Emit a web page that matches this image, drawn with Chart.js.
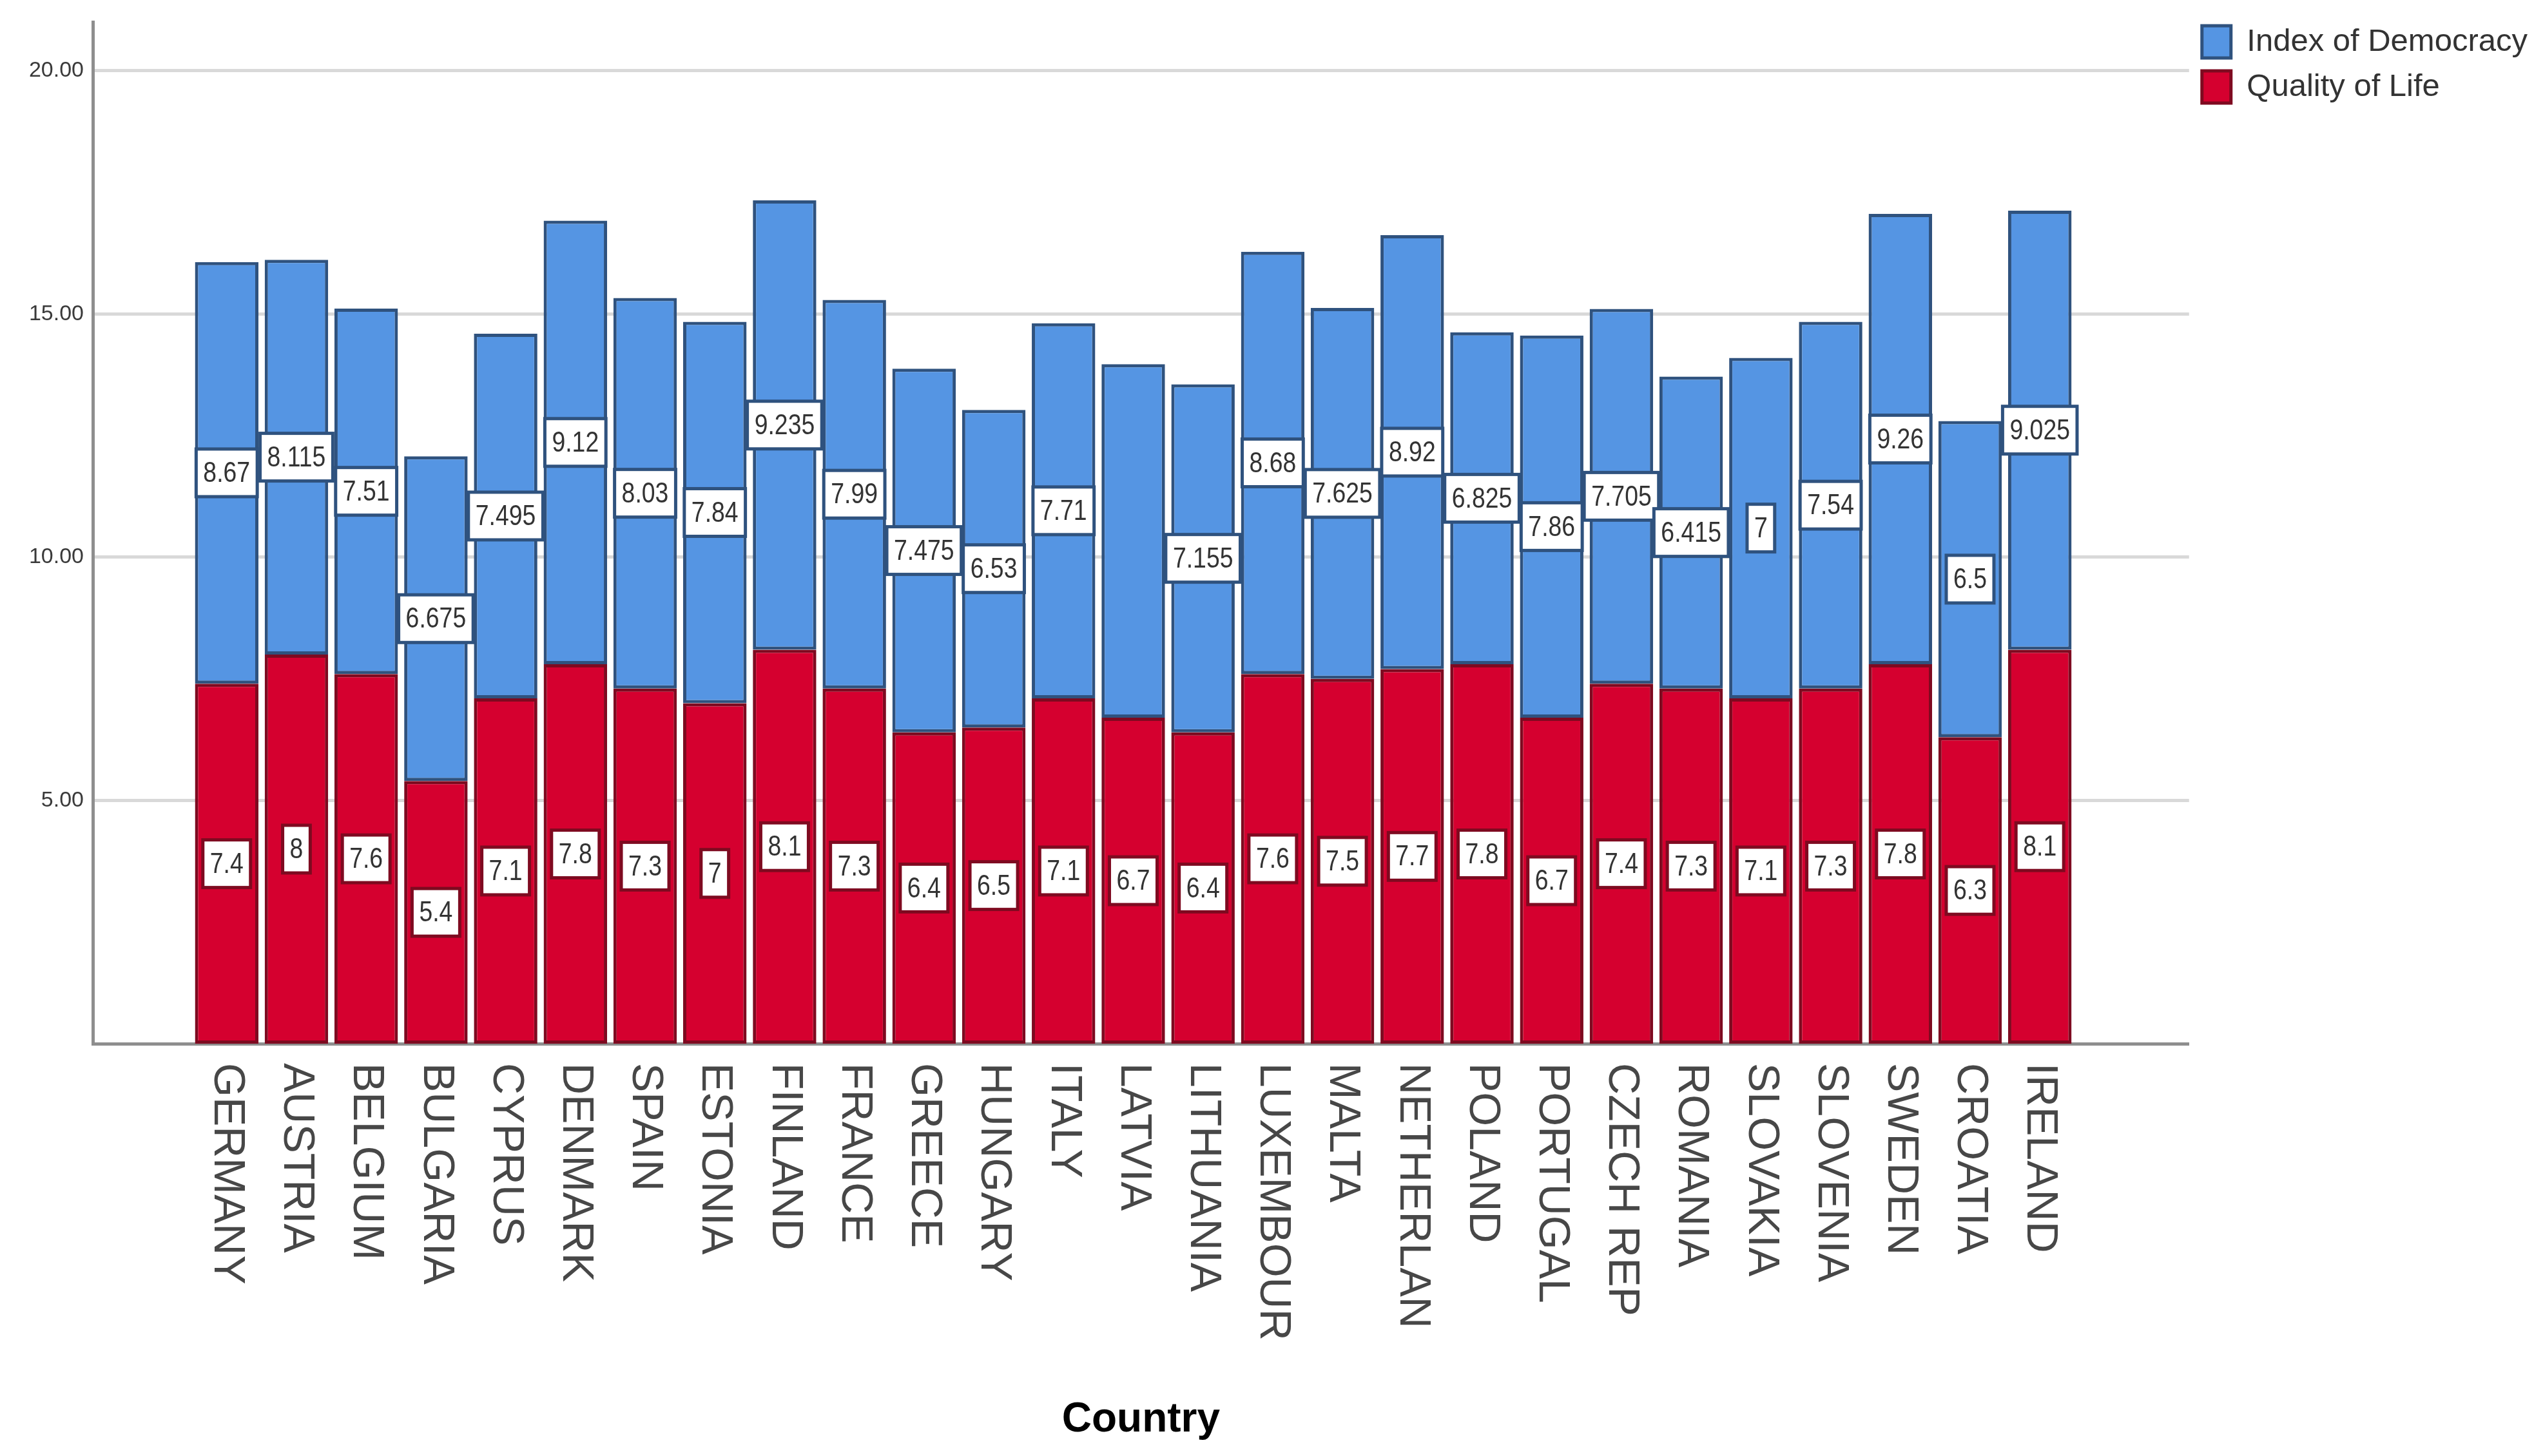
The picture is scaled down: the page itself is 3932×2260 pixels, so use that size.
<!DOCTYPE html>
<html>
<head>
<meta charset="utf-8">
<title>Index of Democracy and Quality of Life by Country</title>
<script src="https://cdn.jsdelivr.net/npm/chart.js@4.4.1/dist/chart.umd.min.js"></script>
<style>
    html, body { margin: 0; padding: 0; background: #ffffff; }
    #wrap { width: 3932px; height: 2260px; }
</style>
</head>
<body>
<div id="wrap"><canvas id="chart" width="3932" height="2260"></canvas></div>
<script>
// DATA
const countries = ['GERMANY', 'AUSTRIA', 'BELGIUM', 'BULGARIA', 'CYPRUS', 'DENMARK', 'SPAIN', 'ESTONIA',
    'FINLAND', 'FRANCE', 'GREECE', 'HUNGARY', 'ITALY', 'LATVIA', 'LITHUANIA', 'LUXEMBOUR', 'MALTA',
    'NETHERLAN', 'POLAND', 'PORTUGAL', 'CZECH REP', 'ROMANIA', 'SLOVAKIA', 'SLOVENIA', 'SWEDEN',
    'CROATIA', 'IRELAND'];
const qualityOfLife = [7.4, 8, 7.6, 5.4, 7.1, 7.8, 7.3, 7, 8.1, 7.3, 6.4, 6.5, 7.1, 6.7, 6.4, 7.6, 7.5,
    7.7, 7.8, 6.7, 7.4, 7.3, 7.1, 7.3, 7.8, 6.3, 8.1];
const indexOfDemocracy = [8.67, 8.115, 7.51, 6.675, 7.495, 9.12, 8.03, 7.84, 9.235, 7.99, 7.475, 6.53,
    7.71, 7.27, 7.155, 8.68, 7.625, 8.92, 6.825, 7.86, 7.705, 6.415, 7, 7.54, 9.26, 6.5, 9.025];
// Latvia's democracy box is not printed in the original
const noLabelDemocracy = ['LATVIA'];
const yTicks = [5, 10, 15, 20];

const FONT = "'Liberation Sans', Arial, sans-serif";
const RED = '#d5002f', RED_EDGE = '#7e0a20';
const BLUE = '#5595e3', BLUE_EDGE = '#2f527e';

// country names, read top to bottom under each bar
const countryLabels = {
    id: 'countryLabels',
    afterDraw(chart) {
        const ctx = chart.ctx;
        const xs = chart.scales.x;
        ctx.save();
        ctx.font = '68px ' + FONT;
        ctx.fillStyle = '#474747';
        ctx.textAlign = 'left';
        ctx.textBaseline = 'middle';
        countries.forEach((name, i) => {
            ctx.save();
            ctx.translate(xs.getPixelForValue(i), xs.top + 30);
            ctx.rotate(Math.PI / 2);
            ctx.fillText(name, 0, 0);
            ctx.restore();
        });
        ctx.restore();
    }
};

// white boxed value in the middle of each segment
const valueBoxes = {
    id: 'valueBoxes',
    afterDatasetsDraw(chart) {
        const ctx = chart.ctx;
        ctx.save();
        ctx.font = '44px ' + FONT;
        ctx.textAlign = 'center';
        ctx.textBaseline = 'middle';
        chart.data.datasets.forEach((ds, di) => {
            const meta = chart.getDatasetMeta(di);
            meta.data.forEach((bar, i) => {
                if (ds.label === 'Index of Democracy' && noLabelDemocracy.includes(countries[i])) return;
                const txt = String(ds.data[i].y);
                const cy = (bar.y + bar.base) / 2;
                const w = ctx.measureText(txt).width * 0.85 + 22;
                const h = 74;
                ctx.fillStyle = '#ffffff';
                ctx.fillRect(bar.x - w / 2, cy - h / 2, w, h);
                ctx.lineWidth = 5;
                ctx.strokeStyle = ds.borderColor;
                ctx.strokeRect(bar.x - w / 2, cy - h / 2, w, h);
                ctx.save();
                ctx.translate(bar.x, cy + 2);
                ctx.scale(0.85, 1);
                ctx.fillStyle = '#333333';
                ctx.fillText(txt, 0, 0);
                ctx.restore();
            });
        });
        ctx.restore();
    }
};

new Chart(document.getElementById('chart'), {
    type: 'bar',
    data: {
        datasets: [
            {
                label: 'Quality of Life',
                data: qualityOfLife.map((v, i) => ({ x: i, y: v })),
                backgroundColor: RED,
                borderColor: RED_EDGE,
                borderWidth: 5,
                borderSkipped: false
            },
            {
                label: 'Index of Democracy',
                data: indexOfDemocracy.map((v, i) => ({ x: i, y: v })),
                backgroundColor: BLUE,
                borderColor: BLUE_EDGE,
                borderWidth: 5,
                borderSkipped: false
            }
        ]
    },
    options: {
        responsive: false,
        devicePixelRatio: 1,
        animation: false,
        barPercentage: 0.91,
        categoryPercentage: 1,
        layout: { padding: { top: 20, right: 0, bottom: 13, left: 0 } },
        plugins: {
            tooltip: { enabled: false },
            legend: {
                position: 'right',
                align: 'start',
                reverse: true,
                labels: {
                    boxWidth: 45,
                    boxHeight: 50,
                    padding: 20,
                    color: '#333333',
                    font: { family: FONT, size: 49 }
                }
            }
        },
        scales: {
            x: {
                type: 'linear',
                stacked: true,
                offset: false,
                min: -1.92,
                max: 28.14,
                grid: { display: false },
                border: { color: '#8e8e8e', width: 5 },
                ticks: { display: false },
                title: {
                    display: true,
                    text: 'Country',
                    color: '#000000',
                    padding: 4,
                    font: { family: FONT, size: 64, weight: 'bold' }
                },
                afterFit(scale) { scale.height = 627; }
            },
            y: {
                stacked: true,
                min: 0,
                max: 21,
                afterBuildTicks(scale) { scale.ticks = yTicks.map(v => ({ value: v })); },
                ticks: {
                    padding: 14,
                    color: '#3a3a3a',
                    font: { family: FONT, size: 34 },
                    callback: v => Number(v).toFixed(2)
                },
                grid: { color: '#d9d9d9', lineWidth: 5, drawTicks: false },
                border: { color: '#8e8e8e', width: 5 },
                afterFit(scale) { scale.width = 144; }
            }
        }
    },
    plugins: [valueBoxes, countryLabels]
});
</script>
</body>
</html>
